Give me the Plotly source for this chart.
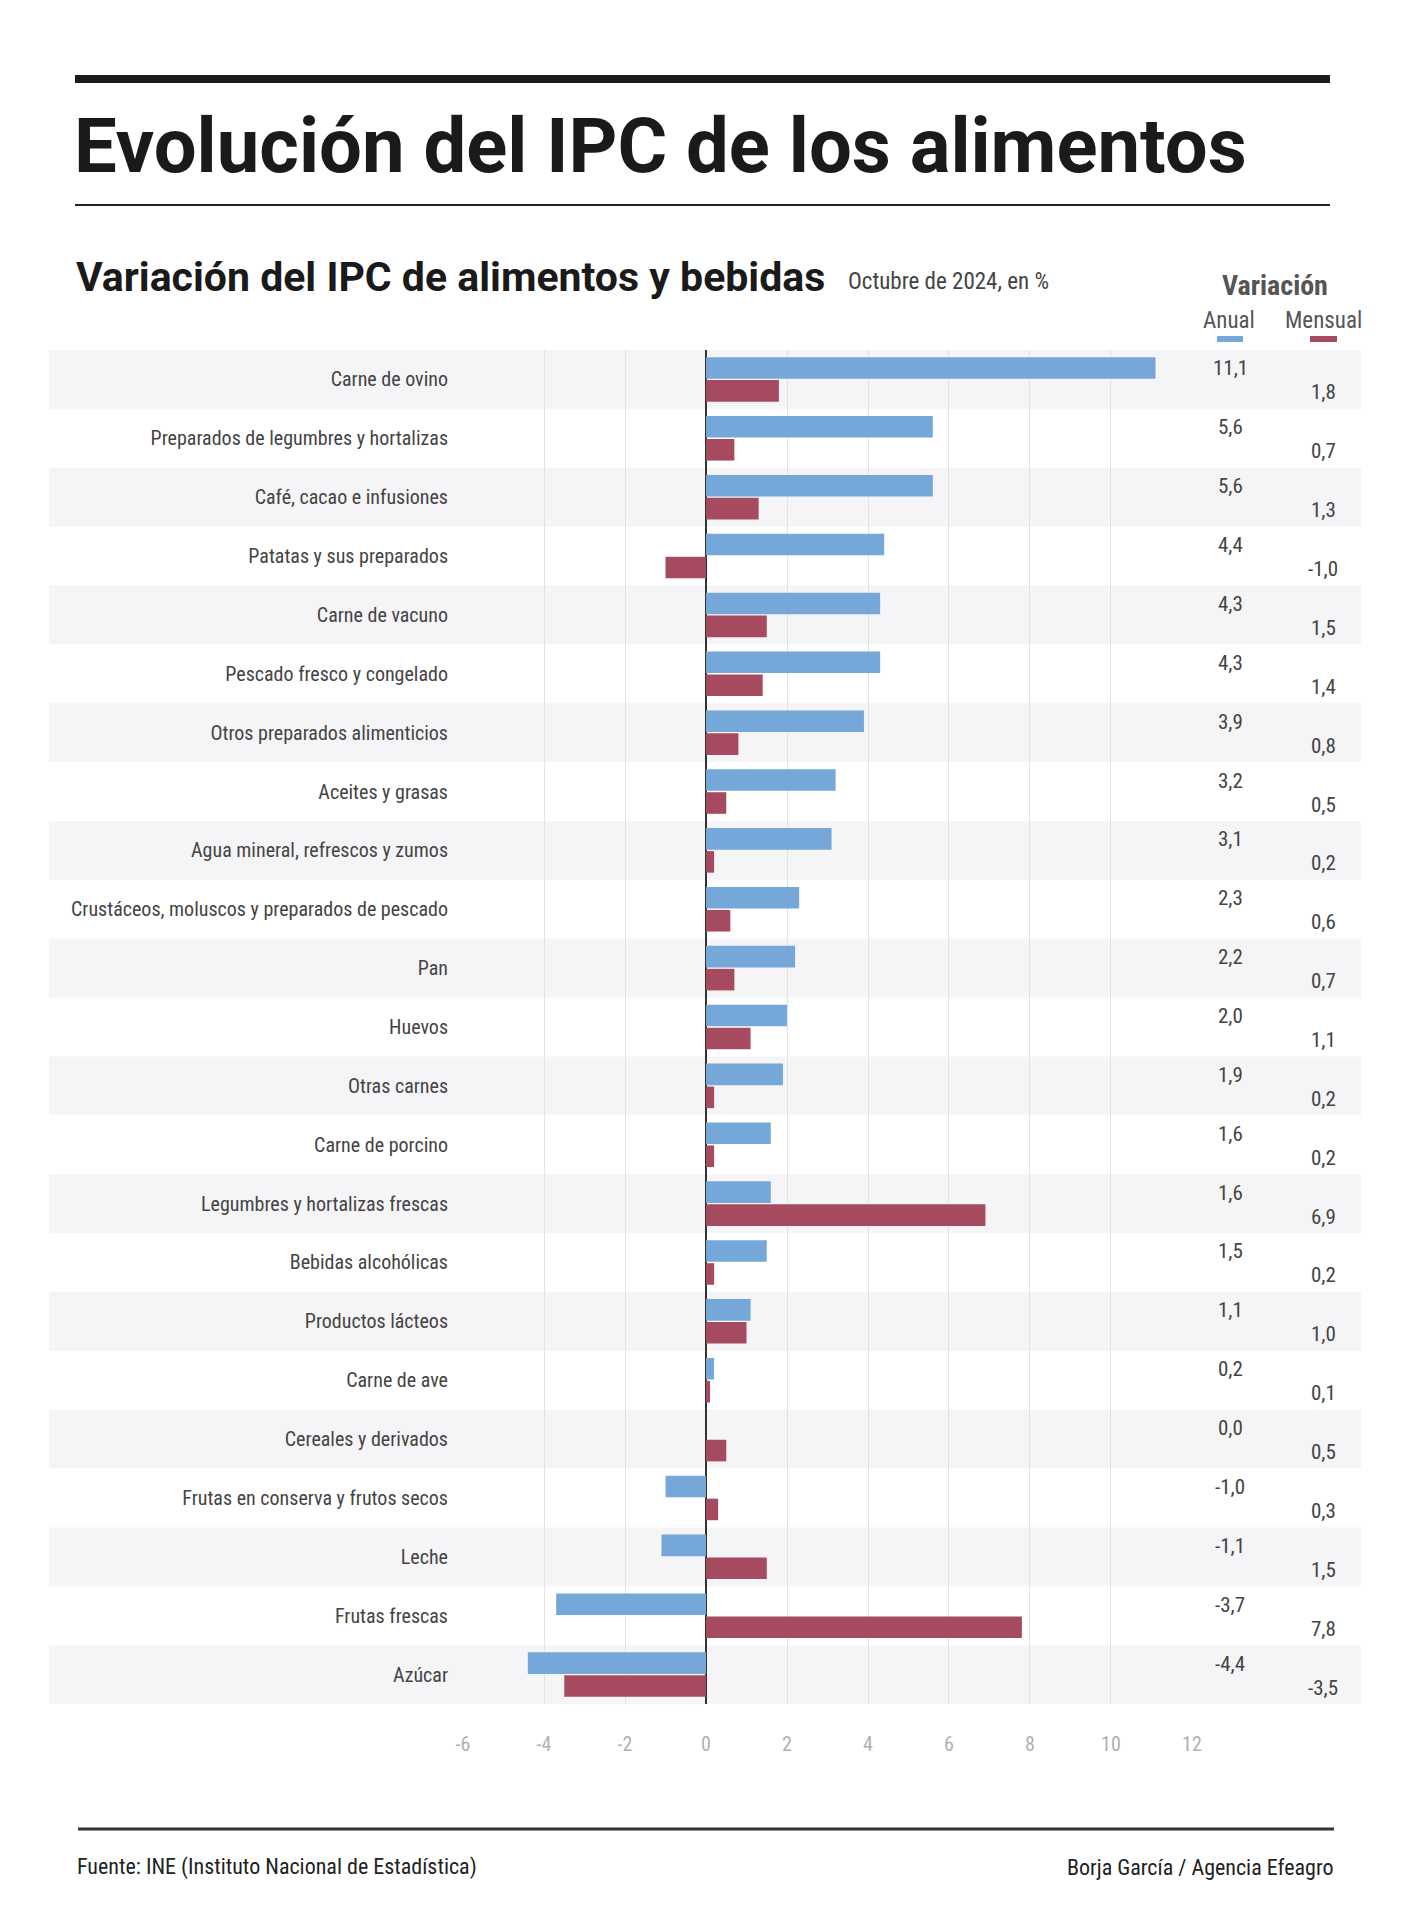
import plotly.graph_objects as go

# ---------------- data ----------------
categorias = [
    "Carne de ovino",
    "Preparados de legumbres y hortalizas",
    "Café, cacao e infusiones",
    "Patatas y sus preparados",
    "Carne de vacuno",
    "Pescado fresco y congelado",
    "Otros preparados alimenticios",
    "Aceites y grasas",
    "Agua mineral, refrescos y zumos",
    "Crustáceos, moluscos y preparados de pescado",
    "Pan",
    "Huevos",
    "Otras carnes",
    "Carne de porcino",
    "Legumbres y hortalizas frescas",
    "Bebidas alcohólicas",
    "Productos lácteos",
    "Carne de ave",
    "Cereales y derivados",
    "Frutas en conserva y frutos secos",
    "Leche",
    "Frutas frescas",
    "Azúcar",
]
anual = [11.1, 5.6, 5.6, 4.4, 4.3, 4.3, 3.9, 3.2, 3.1, 2.3, 2.2, 2.0, 1.9, 1.6, 1.6,
         1.5, 1.1, 0.2, 0.0, -1.0, -1.1, -3.7, -4.4]
mensual = [1.8, 0.7, 1.3, -1.0, 1.5, 1.4, 0.8, 0.5, 0.2, 0.6, 0.7, 1.1, 0.2, 0.2, 6.9,
           0.2, 1.0, 0.1, 0.5, 0.3, 1.5, 7.8, -3.5]
ticks_x = [-6, -4, -2, 0, 2, 4, 6, 8, 10, 12]

titulo = "Evolución del IPC de los alimentos"
subtitulo = "Variación del IPC de alimentos y bebidas"
nota = "Octubre de 2024, en %"
fuente = "Fuente: INE (Instituto Nacional de Estadística)"
autor = "Borja García / Agencia Efeagro"

# ---------------- layout helpers ----------------
OFF = 8  # page body margin
W, H = 1409 - OFF, 1920 - OFF
L, R, T, B = 463, 1192, 350, 1704  # plot area in page pixels
COND = "Roboto Condensed, Roboto, Liberation Sans, Arial, sans-serif"
WIDE = "Roboto, Liberation Sans, Arial, sans-serif"
BLUE = "#76a7d9"
RED = "#a64a60"


def px(x):
    return (x - L) / (R - L)


def py(y):
    return (B - y) / (B - T)


def fmt(v):
    return f"{v:.1f}".replace(".", ",")


fig = go.Figure()
fig.add_trace(go.Bar(y=categorias, x=anual, orientation="h", name="Anual",
                     marker=dict(color=BLUE, line=dict(width=0))))
fig.add_trace(go.Bar(y=categorias, x=mensual, orientation="h", name="Mensual",
                     marker=dict(color=RED, line=dict(width=0))))

shapes = []
n = len(categorias)
rowh = (B - T) / n
for i in range(0, n, 2):
    shapes.append(dict(type="rect", xref="paper", yref="paper", layer="below",
                       x0=px(49), x1=px(1361), y0=py(T + (i + 1) * rowh), y1=py(T + i * rowh),
                       fillcolor="#f5f5f7", line=dict(width=0)))
# rules
shapes.append(dict(type="rect", xref="paper", yref="paper", x0=px(75), x1=px(1330),
                   y0=py(83), y1=py(75), fillcolor="#1a1a1a", line=dict(width=0)))
shapes.append(dict(type="line", xref="paper", yref="paper", x0=px(75), x1=px(1330),
                   y0=py(205), y1=py(205), line=dict(color="#222222", width=2)))
shapes.append(dict(type="line", xref="paper", yref="paper", x0=px(78), x1=px(1334),
                   y0=py(1829), y1=py(1829), line=dict(color="#333333", width=3)))
# legend swatches
shapes.append(dict(type="rect", xref="paper", yref="paper", x0=px(1217), x1=px(1243),
                   y0=py(342), y1=py(336), fillcolor=BLUE, line=dict(width=0)))
shapes.append(dict(type="rect", xref="paper", yref="paper", x0=px(1310), x1=px(1337),
                   y0=py(342), y1=py(336), fillcolor=RED, line=dict(width=0)))

ann = []
ann.append(dict(text=f"<b>{titulo}</b>", xref="paper", yref="paper", x=px(72), y=py(146),
                xanchor="left", yanchor="middle", showarrow=False,
                font=dict(family=WIDE, size=76, color="#1a1a1a")))
ann.append(dict(text=f"<b>{subtitulo}</b>", xref="paper", yref="paper", x=px(74), y=py(277),
                xanchor="left", yanchor="middle", showarrow=False,
                font=dict(family=WIDE, size=41, color="#1a1a1a")))
ann.append(dict(text=nota, xref="paper", yref="paper", x=px(846), y=py(281),
                xanchor="left", yanchor="middle", showarrow=False,
                font=dict(family=COND, size=23, color="#444444")))
ann.append(dict(text="<b>Variación</b>", xref="paper", yref="paper", x=px(1275), y=py(285),
                xanchor="center", yanchor="middle", showarrow=False,
                font=dict(family=COND, size=28, color="#555555")))
ann.append(dict(text="Anual", xref="paper", yref="paper", x=px(1229), y=py(321),
                xanchor="center", yanchor="middle", showarrow=False,
                font=dict(family=COND, size=23, color="#555555")))
ann.append(dict(text="Mensual", xref="paper", yref="paper", x=px(1323), y=py(321),
                xanchor="center", yanchor="middle", showarrow=False,
                font=dict(family=COND, size=23, color="#555555")))
for c, a, m in zip(categorias, anual, mensual):
    ann.append(dict(text=fmt(a), xref="paper", yref="y", x=px(1230), y=c, yshift=11,
                    xanchor="center", yanchor="middle", showarrow=False,
                    font=dict(family=COND, size=21, color="#444444")))
    ann.append(dict(text=fmt(m), xref="paper", yref="y", x=px(1323), y=c, yshift=-13,
                    xanchor="center", yanchor="middle", showarrow=False,
                    font=dict(family=COND, size=21, color="#444444")))
ann.append(dict(text=fuente, xref="paper", yref="paper", x=px(75), y=py(1867),
                xanchor="left", yanchor="middle", showarrow=False,
                font=dict(family=COND, size=22, color="#222222")))
ann.append(dict(text=autor, xref="paper", yref="paper", x=px(1335), y=py(1867),
                xanchor="right", yanchor="middle", showarrow=False,
                font=dict(family=COND, size=22, color="#222222")))

fig.update_layout(
    width=W, height=H,
    margin=dict(l=L - OFF, r=W - (R - OFF), t=T - OFF, b=H - (B - OFF), pad=0),
    paper_bgcolor="white", plot_bgcolor="rgba(0,0,0,0)",
    barmode="group", bargap=0.22, bargroupgap=0.06,
    showlegend=False,
    shapes=shapes, annotations=ann,
    font=dict(family=COND),
    xaxis=dict(range=[-6.001, 12.001], tickvals=ticks_x, ticktext=[str(t) for t in ticks_x],
               showgrid=True, gridcolor="#e3e3e3", gridwidth=1,
               zeroline=True, zerolinecolor="#333333", zerolinewidth=1.5,
               showline=False, ticks="", ticklabelstandoff=26,
               tickfont=dict(family=COND, size=20, color="#b0b0b0"), fixedrange=True),
    yaxis=dict(type="category", autorange="reversed", showgrid=False, zeroline=False,
               showline=False, ticks="", ticklabelstandoff=14,
               tickfont=dict(family=COND, size=20, color="#444444"), fixedrange=True),
)

fig.write_html("out.html")
